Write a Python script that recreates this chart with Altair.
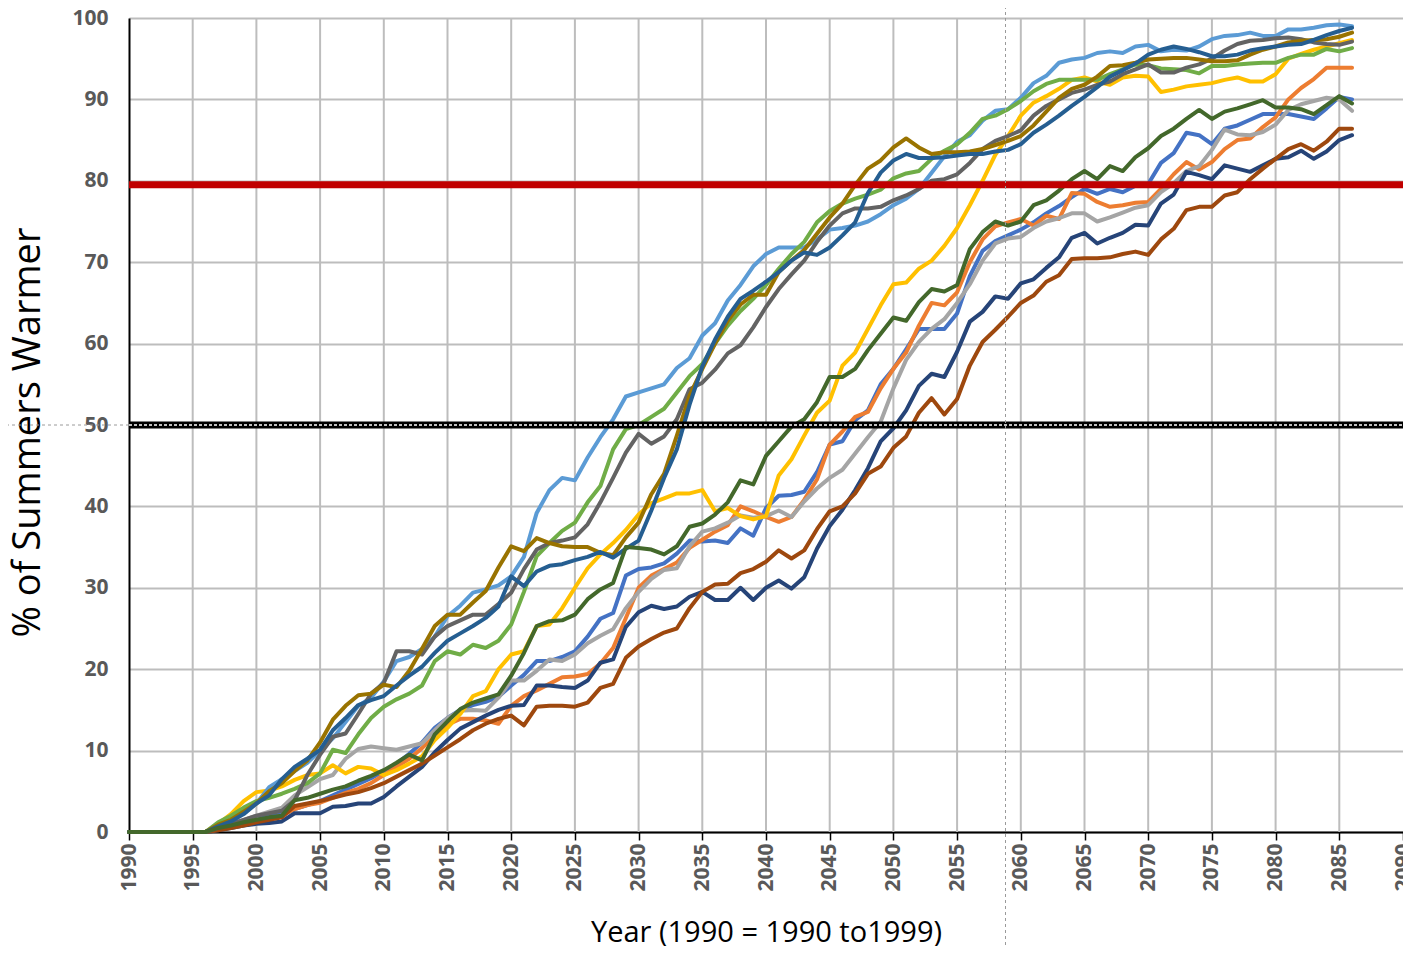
import altair as alt
import pandas as pd

YEARS = [1990] + list(range(1996, 2087))

NAMES = ["S1", "S2", "S3", "S4", "S5", "S6", "S7", "S8", "S9", "S10", "S11", "S12"]
COLORS = ["#4472C4", "#ED7D31", "#A5A5A5", "#FFC000", "#5B9BD5", "#70AD47",
          "#264478", "#9E480E", "#636363", "#997300", "#255E91", "#43682B"]

# values for 1990, 1996, then 1997..2086
S1 = [0, 0,
      0.3, 0.7, 1, 1.5, 2, 2.4, 2.8, 3.3, 3.8, 4.5,
      5.2, 5.9, 6.6, 7.5, 8.4, 9.6, 11, 12.8, 14, 15,
      15.6, 16, 16.6, 18, 19.3, 21, 21, 21.5, 22.2, 24,
      26.2, 26.9, 31.5, 32.3, 32.5, 33, 34.2, 35.8, 35.7, 35.8,
      35.5, 37.3, 36.4, 39.8, 41.3, 41.4, 41.8, 44.2, 47.6, 48,
      50.6, 51.8, 55, 56.9, 59.3, 61.8, 61.8, 61.8, 63.7, 68.3,
      71.4, 72.6, 73.3, 74, 74.9, 76, 76.9, 78, 79, 78.4,
      79, 78.6, 79.4, 79.6, 82.2, 83.4, 85.9, 85.6, 84.5, 86.4,
      86.8, 87.5, 88.2, 88.2, 88.2, 87.9, 87.6, 88.9, 90.3, 90]
S2 = [0, 0,
      0.3, 0.7, 1, 1.3, 1.6, 2, 2.8, 3.3, 3.6, 4.2,
      4.8, 5.3, 6, 7, 8, 9, 10.3, 11.8, 13.2, 13.9,
      13.9, 13.7, 13.3, 15.5, 16.7, 17.4, 18.2, 19, 19.1, 19.4,
      20.7, 22.6, 26.3, 30, 31.5, 32.3, 33.1, 34.9, 35.9, 36.9,
      37.7, 40, 39.4, 38.7, 38.1, 38.7, 40.8, 43.3, 47.6, 49.2,
      51, 51.6, 54.5, 56.9, 58.9, 62.2, 65, 64.7, 66.3, 70,
      72.8, 74.4, 74.9, 75.3, 74.5, 75.7, 75.3, 78.5, 78.4, 77.4,
      76.8, 77, 77.3, 77.4, 79, 80.8, 82.3, 81.4, 82.3, 83.9,
      85, 85.2, 86.6, 87.8, 90, 91.4, 92.5, 93.9, 93.9, 93.9]
S3 = [0, 0,
      0.5, 1, 1.5, 2, 2.5, 3, 4.5, 5.5, 6.5, 7,
      9, 10.2, 10.5, 10.3, 10.1, 10.5, 10.9, 12.5, 14, 14.9,
      15, 14.9, 16.5, 18.6, 18.6, 19.8, 21.2, 21, 21.8, 23.2,
      24.1, 24.9, 27.5, 29.5, 31.1, 32.2, 32.4, 35.1, 36.9, 37.3,
      38, 38.9, 38.6, 38.8, 39.5, 38.7, 40.6, 42.2, 43.5, 44.5,
      46.5, 48.5, 50.4, 54.5, 58, 60.2, 61.8, 63, 65, 67.3,
      70.2, 72.3, 72.9, 73.1, 74.2, 75, 75.4, 76, 76, 75,
      75.5, 76.1, 76.7, 77, 78.6, 79.7, 81.2, 81.8, 83.8, 86.3,
      85.7, 85.6, 86, 86.9, 88.7, 89.4, 89.8, 90.2, 90, 88.6]
S4 = [0, 0,
      1, 2.2, 3.8, 4.9, 5.1, 5.6, 6.4, 7, 7.2, 8.2,
      7.2, 8, 7.8, 7, 7.6, 8.4, 9.3, 11.3, 12.8, 14.5,
      16.7, 17.3, 20, 21.8, 22.2, 25.3, 25.5, 27.5, 30, 32.4,
      34.1, 35.5, 37.1, 39, 40.4, 41, 41.6, 41.6, 42, 39.4,
      39.8, 38.8, 38.4, 38.8, 43.8, 45.8, 48.7, 51.5, 53, 57.3,
      58.9, 61.8, 64.7, 67.3, 67.5, 69.2, 70.2, 72, 74.2, 77,
      80, 83.2, 85.5, 88, 89.6, 90.4, 91.3, 92.4, 92.7, 92.2,
      91.8, 92.7, 92.9, 92.8, 90.9, 91.2, 91.6, 91.8, 92, 92.4,
      92.7, 92.2, 92.2, 93.1, 95, 95.6, 96.1, 96.5, 96.9, 97.3]
S5 = [0, 0,
      0.8, 1.5, 2.5, 3.5, 5.5, 6.5, 7.5, 8.5, 10, 11.5,
      13.5, 15.5, 16.5, 18.5, 21, 21.5, 22.5, 24, 26.5, 27.8,
      29.4, 29.8, 30.3, 31.4, 33.8, 39.2, 42, 43.5, 43.2, 46,
      48.5, 50.7, 53.5, 54, 54.5, 55, 57, 58.2, 61, 62.5,
      65.3, 67.2, 69.5, 71, 71.8, 71.8, 71.8, 72.8, 74, 74.2,
      74.5, 75, 75.9, 77, 77.8, 79, 81, 83, 84.8, 85.6,
      87.4, 88.6, 88.8, 90.2, 92, 92.9, 94.5, 94.9, 95.1, 95.7,
      95.9, 95.7, 96.5, 96.7, 95.9, 96.1, 96, 96.5, 97.4, 97.8,
      97.9, 98.2, 97.8, 97.8, 98.6, 98.6, 98.8, 99.1, 99.2, 99]
S6 = [0, 0,
      1.2, 2, 3, 3.8, 4.2, 4.7, 5.3, 6, 7.2, 10.1,
      9.7, 12, 14, 15.4, 16.3, 17, 18, 21, 22.2, 21.8,
      23, 22.6, 23.5, 25.5, 29.5, 33.9, 35.5, 37, 38, 40.5,
      42.5, 47, 49.5, 50, 51, 52, 54, 56, 57.5, 60,
      62.2, 64, 65.5, 67.2, 69.2, 71, 72.5, 74.9, 76.3, 77.2,
      77.8, 78.3, 78.9, 80.3, 80.9, 81.2, 82.7, 83.7, 84.5, 85.9,
      87.6, 88, 88.8, 89.8, 91, 91.9, 92.4, 92.4, 92.4, 92.4,
      93.1, 93.7, 94.3, 94.2, 93.8, 93.7, 93.6, 93.2, 94.1, 94.1,
      94.3, 94.4, 94.5, 94.5, 95.1, 95.5, 95.5, 96.2, 95.9, 96.3]
S7 = [0, 0,
      0.2, 0.5, 0.8, 1, 1.1, 1.3, 2.3, 2.3, 2.3, 3.1,
      3.2, 3.5, 3.5, 4.3, 5.6, 6.8, 8, 9.8, 11.3, 12.7,
      13.5, 14.3, 15, 15.5, 15.6, 18, 18, 17.8, 17.7, 18.6,
      20.8, 21.2, 25.2, 27, 27.8, 27.4, 27.7, 28.9, 29.5, 28.5,
      28.5, 30, 28.5, 30, 30.9, 29.9, 31.3, 34.8, 37.6, 39.6,
      42, 44.7, 48, 49.6, 51.8, 54.8, 56.3, 55.9, 59, 62.7,
      63.9, 65.8, 65.5, 67.4, 67.9, 69.3, 70.6, 73, 73.6, 72.3,
      73, 73.6, 74.6, 74.5, 77.2, 78.3, 81.1, 80.7, 80.2, 81.9,
      81.5, 81.1, 81.9, 82.7, 82.9, 83.7, 82.7, 83.6, 85, 85.6]
S8 = [0, 0,
      0.2, 0.5, 0.8, 1.2, 1.5, 1.8, 3.2, 3.5, 3.8, 4.2,
      4.6, 4.9, 5.4, 6, 6.8, 7.6, 8.4, 9.4, 10.4, 11.4,
      12.5, 13.3, 13.9, 14.3, 13.1, 15.4, 15.5, 15.5, 15.4, 15.9,
      17.7, 18.2, 21.4, 22.8, 23.7, 24.5, 25, 27.5, 29.5, 30.4,
      30.5, 31.8, 32.3, 33.2, 34.6, 33.6, 34.6, 37.2, 39.4, 40,
      41.6, 44, 44.9, 47.2, 48.6, 51.5, 53.3, 51.3, 53.2, 57.3,
      60.2, 61.7, 63.3, 65, 65.9, 67.6, 68.4, 70.4, 70.5, 70.5,
      70.6, 71, 71.3, 70.9, 72.8, 74.1, 76.4, 76.8, 76.8, 78.2,
      78.6, 80.2, 81.5, 82.7, 83.9, 84.5, 83.7, 84.8, 86.4, 86.4]
S9 = [0, 0,
      0.5, 1, 1.5, 2, 2.3, 2.6, 3.9, 7, 9.5, 11.7,
      12.1, 14.5, 17, 18.3, 22.2, 22.2, 21.8, 24, 25.3, 26,
      26.7, 26.7, 28, 29.4, 32.3, 34.7, 35.5, 35.8, 36.2, 37.8,
      40.5, 43.5, 46.6, 48.9, 47.7, 48.6, 50.7, 54.4, 55.2, 56.8,
      58.8, 59.8, 62, 64.5, 66.7, 68.5, 70.2, 72.5, 74.5, 76,
      76.6, 76.6, 76.8, 77.6, 78.2, 79, 80, 80.2, 80.8, 82.2,
      83.9, 84.9, 85.5, 86.2, 88, 89.2, 90, 90.8, 91.2, 91.8,
      92.2, 93.1, 93.7, 94.3, 93.3, 93.3, 93.9, 94.3, 95, 96,
      96.8, 97.2, 97.3, 97.5, 97.6, 97.4, 97, 96.8, 96.7, 97.1]
S10 = [0, 0,
       0.9, 1.5, 2.5, 3.5, 5, 6, 7.5, 8.8, 11, 13.8,
       15.5, 16.8, 17, 18.1, 17.8, 19.8, 22.5, 25.3, 26.7, 26.7,
       28.2, 29.6, 32.5, 35.1, 34.5, 36.1, 35.5, 35.1, 35, 35,
       34.3, 34, 36.2, 38, 41.5, 44, 48.7, 53.6, 56.9, 60,
       62.8, 64.8, 66, 66, 68.8, 70.2, 71.5, 73.5, 75.5, 77.2,
       79.5, 81.5, 82.5, 84.1, 85.2, 84.1, 83.3, 83.5, 83.5, 83.6,
       83.9, 84.4, 84.9, 85.5, 86.8, 88.5, 90.2, 91.3, 91.8, 92.8,
       94.1, 94.2, 94.5, 94.9, 95, 95.1, 95.1, 94.9, 94.7, 94.7,
       94.8, 95.5, 96.1, 96.5, 97, 97.2, 97.3, 97.4, 97.7, 98.2]
S11 = [0, 0,
       0.7, 1.3, 2.2, 3.5, 4.5, 6.5, 8, 9, 10.1, 12.5,
       14, 15.6, 16.2, 16.7, 18, 19.2, 20.3, 22, 23.5, 24.4,
       25.3, 26.3, 27.7, 31.4, 30.2, 32, 32.7, 32.9, 33.4, 33.8,
       34.4, 33.7, 34.8, 35.8, 39.5, 43.5, 47, 52.5, 57.2, 60.5,
       63.3, 65.5, 66.5, 67.6, 68.8, 70.2, 71.2, 70.9, 71.8, 73.3,
       74.9, 78.5, 81, 82.5, 83.3, 82.8, 82.8, 82.9, 83.1, 83.3,
       83.3, 83.6, 83.8, 84.5, 85.9, 86.9, 88, 89.2, 90.3, 91.5,
       92.8, 93.6, 94.4, 95.5, 96.1, 96.5, 96.2, 95.8, 95.3, 95.3,
       95.5, 96, 96.3, 96.5, 96.7, 96.8, 97.3, 97.9, 98.4, 98.8]
S12 = [0, 0,
       0.5, 0.8, 1.2, 1.5, 1.8, 2, 3.9, 4.2, 4.7, 5.2,
       5.6, 6.3, 6.9, 7.6, 8.5, 9.5, 8.8, 12, 13.6, 15.1,
       15.9, 16.4, 16.9, 19.2, 22, 25.3, 25.9, 26, 26.7, 28.6,
       29.8, 30.6, 35, 34.9, 34.7, 34.1, 35.1, 37.5, 37.9, 39,
       40.5, 43.2, 42.7, 46.2, 48, 49.8, 50.7, 52.8, 55.9, 55.9,
       56.9, 59.2, 61.2, 63.2, 62.8, 65.1, 66.7, 66.4, 67.2, 71.6,
       73.7, 75, 74.5, 75, 77, 77.6, 78.8, 80.2, 81.2, 80.2,
       81.8, 81.2, 82.9, 84, 85.5, 86.4, 87.6, 88.7, 87.6, 88.5,
       88.9, 89.4, 89.9, 89, 89, 88.8, 88.2, 89.3, 90.4, 89.5]

ALL = [S1, S2, S3, S4, S5, S6, S7, S8, S9, S10, S11, S12]

X_TICKS = [1990 + 2.5 * i for i in range(41)]
GRID_YEARS = list(range(1995, 2090, 5))
Y_TICKS = list(range(0, 101, 10))
RED_LEVEL = 79.5
BLACK_LEVEL = 50
MARK_YEAR = 2058.8

W, H = 1274, 814
LABEL_FONT = "Open Sans"

rows = []
for name, vals in zip(NAMES, ALL):
    for yr, v in zip(YEARS, vals):
        rows.append({"series": name, "year": yr, "value": v})
df = pd.DataFrame(rows)

xscale = alt.Scale(domain=[1990, 2090], nice=False, zero=False)
yscale = alt.Scale(domain=[0, 100], nice=False)

x_axis = alt.Axis(
    values=X_TICKS,
    labelExpr="datum.value % 5 === 0 ? format(datum.value, 'd') : ''",
    labelAngle=-90, labelFont=LABEL_FONT, labelFontWeight="bold", labelFontSize=21,
    labelColor="#595959", labelPadding=3, labelOverlap=False, labelBound=False,
    grid=False, tickColor="black", tickSize=8, tickWidth=1.5,
    domainColor="black", domainWidth=2,
    title="Year (1990 = 1990 to1999)", titleFont=LABEL_FONT, titleFontSize=29,
    titleFontWeight="normal", titleColor="black",
    titleY=109, titleBaseline="alphabetic",
)
y_axis = alt.Axis(
    values=Y_TICKS, format="d",
    labelFont=LABEL_FONT, labelFontWeight="bold", labelFontSize=21,
    labelColor="#595959", labelPadding=21, ticks=False,
    grid=True, gridColor="#BDBDBD", gridWidth=2,
    domainColor="black", domainWidth=2,
    title="% of Summers Warmer", titleFont=LABEL_FONT, titleFontSize=38,
    titleFontWeight="normal", titleColor="black",
    titleX=-101, titleY=414, titleAlign="center", titleBaseline="middle", titleAngle=-90,
)

vgrid = alt.Chart(pd.DataFrame({"year": GRID_YEARS})).mark_rule(
    color="#BDBDBD", strokeWidth=2
).encode(x=alt.X("year:Q", scale=xscale, axis=x_axis))

lines = alt.Chart(df).mark_line(strokeWidth=4, strokeJoin="round", strokeCap="round").encode(
    x=alt.X("year:Q", scale=xscale, axis=x_axis),
    y=alt.Y("value:Q", scale=yscale, axis=y_axis),
    color=alt.Color("series:N", scale=alt.Scale(domain=NAMES, range=COLORS), legend=None, sort=NAMES),
    order=alt.Order("year:Q"),
)

red = alt.Chart(pd.DataFrame({"v": [RED_LEVEL]})).mark_rule(color="#C00000", strokeWidth=7).encode(
    y=alt.Y("v:Q", scale=yscale), x=alt.value(0), x2=alt.value(W + 2)
)
black = alt.Chart(pd.DataFrame({"v": [BLACK_LEVEL]})).mark_rule(color="black", strokeWidth=7).encode(
    y=alt.Y("v:Q", scale=yscale), x=alt.value(0), x2=alt.value(W + 2)
)
black_inner = alt.Chart(pd.DataFrame({"v": [BLACK_LEVEL]})).mark_rule(
    color="white", strokeWidth=1.5, strokeDash=[3, 2]
).encode(y=alt.Y("v:Q", scale=yscale), x=alt.value(0), x2=alt.value(W + 2))
left_dot = alt.Chart(pd.DataFrame({"v": [BLACK_LEVEL]})).mark_rule(
    color="#9A9A9A", strokeWidth=1, strokeDash=[3, 3]
).encode(y=alt.Y("v:Q", scale=yscale), x=alt.value(-129), x2=alt.value(0))
vert_dot = alt.Chart(pd.DataFrame({"yr": [MARK_YEAR]})).mark_rule(
    color="#9A9A9A", strokeWidth=1, strokeDash=[3, 3]
).encode(x=alt.X("yr:Q", scale=xscale), y=alt.value(-18), y2=alt.value(H + 114))

chart = alt.layer(vgrid, lines, red, black, black_inner, left_dot, vert_dot).properties(
    width=W, height=H,
    padding={"left": 121, "top": 10, "right": 0, "bottom": 114},
    autosize=alt.AutoSizeParams(type="none"),
).configure_view(stroke="black", strokeWidth=2).configure(background="white")

chart.save("out.html", embed_options={"renderer": "svg", "actions": False})
